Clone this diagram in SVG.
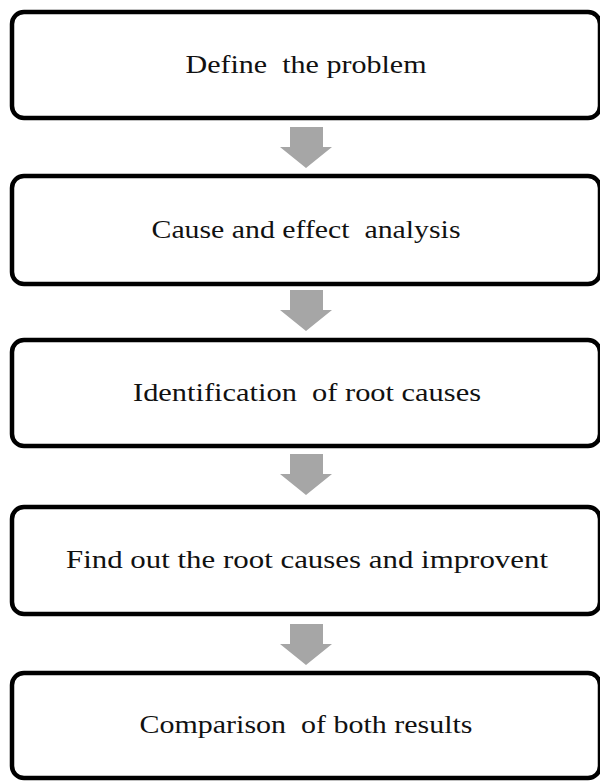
<svg xmlns="http://www.w3.org/2000/svg" width="600" height="782" viewBox="0 0 600 782">
<style>
.box{fill:#fff;stroke:#000;stroke-width:4.5}
.lbl{font-family:"Liberation Serif","Times New Roman",serif;font-size:26px;fill:#111;text-anchor:middle}
.arr{fill:#a6a6a6}
</style>
<defs>
<path id="arrow" d="M-16,0 H17 V20 H26 L0,41 L-26,20 H-16 Z"/>
</defs>
<rect width="600" height="782" fill="#fff"/>
<g id="connectors">
<use href="#arrow" class="arr" x="306" y="127"/>
<use href="#arrow" class="arr" x="306" y="290"/>
<use href="#arrow" class="arr" x="306" y="454"/>
<use href="#arrow" class="arr" x="306" y="624"/>
</g>
<g id="n1">
<rect class="box" x="12" y="12" width="588" height="106" rx="12"/>
<text class="lbl" x="306" y="73" xml:space="preserve" textLength="241" lengthAdjust="spacingAndGlyphs">Define  the problem</text>
</g>
<g id="n2">
<rect class="box" x="12" y="176" width="588" height="108" rx="12"/>
<text class="lbl" x="306" y="238" xml:space="preserve" textLength="309" lengthAdjust="spacingAndGlyphs">Cause and effect  analysis</text>
</g>
<g id="n3">
<rect class="box" x="12" y="340" width="588" height="106" rx="12"/>
<text class="lbl" x="307" y="401" xml:space="preserve" textLength="348" lengthAdjust="spacingAndGlyphs">Identification  of root causes</text>
</g>
<g id="n4">
<rect class="box" x="12" y="507" width="588" height="107" rx="12"/>
<text class="lbl" x="307" y="568" xml:space="preserve" textLength="482" lengthAdjust="spacingAndGlyphs">Find out the root causes and improvent</text>
</g>
<g id="n5">
<rect class="box" x="12" y="673" width="588" height="105" rx="12"/>
<text class="lbl" x="306" y="733" xml:space="preserve" textLength="333" lengthAdjust="spacingAndGlyphs">Comparison  of both results</text>
</g>
</svg>
